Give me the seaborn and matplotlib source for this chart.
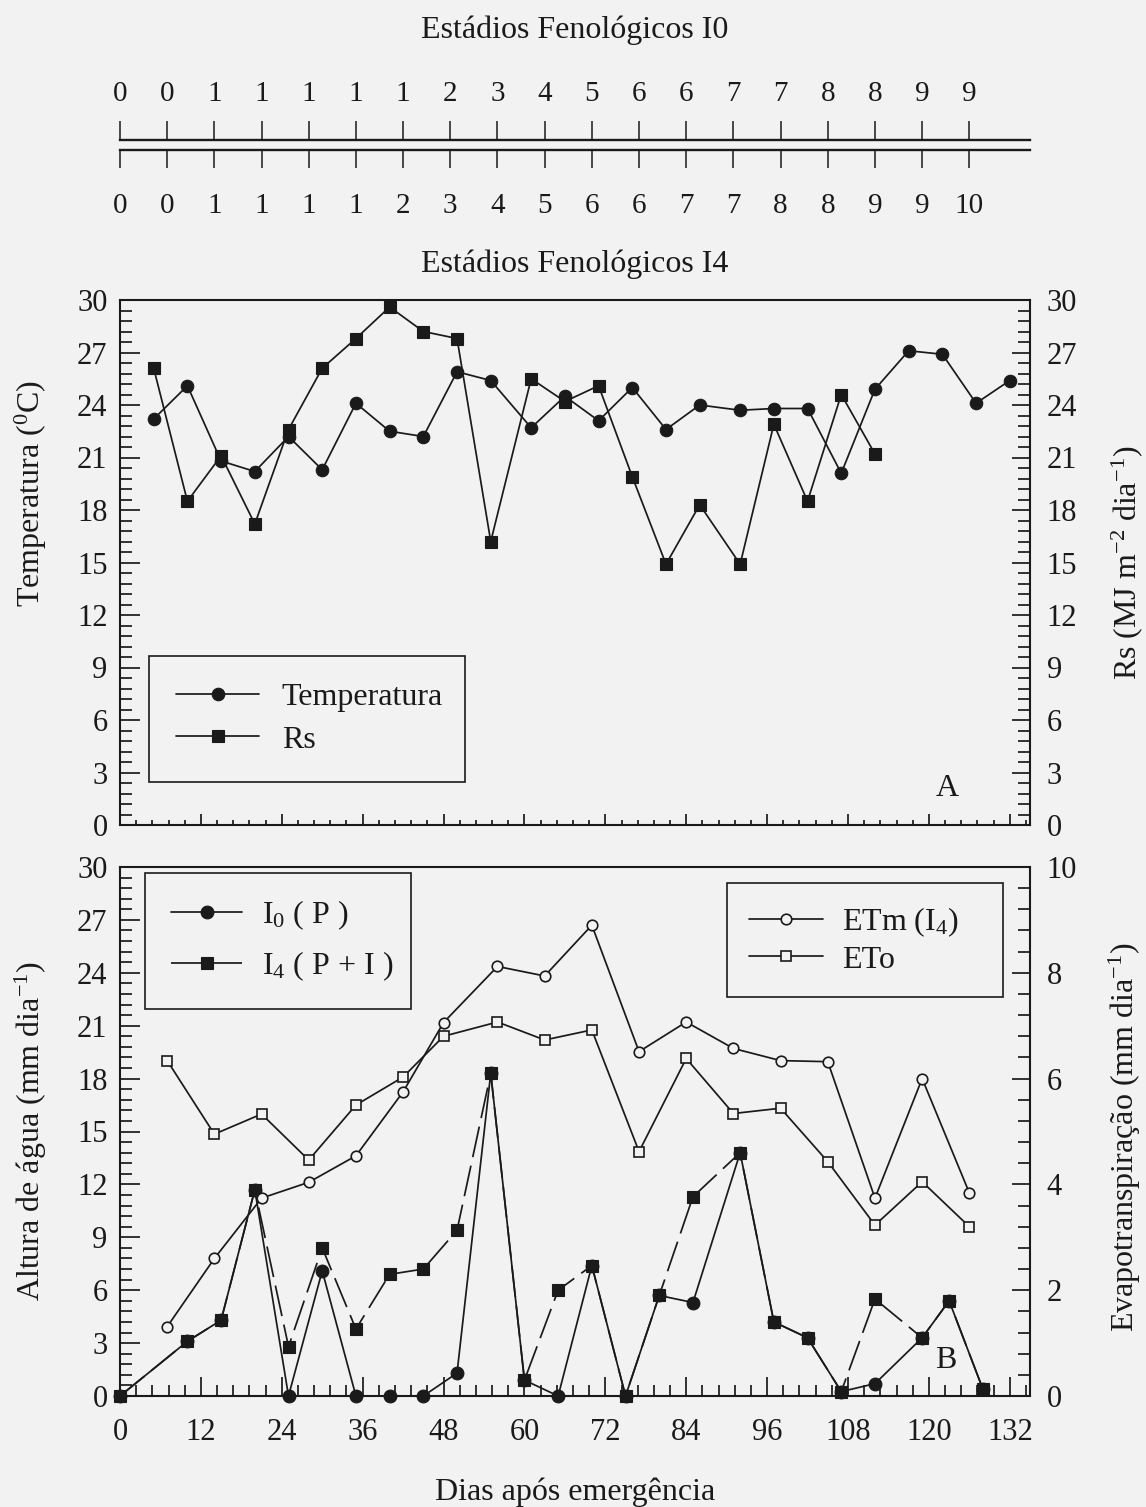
import matplotlib
matplotlib.use("Agg")
import matplotlib.pyplot as plt
from matplotlib.ticker import MultipleLocator, FixedLocator, FixedFormatter
import seaborn as sns

# ---------------- data ----------------
# phenological stages, read every 7 days
stage_days = [0, 7, 14, 21, 28, 35, 42, 49, 56, 63, 70, 77, 84, 91, 98, 105, 112, 119, 126]
stages_i0 = ["0", "0", "1", "1", "1", "1", "1", "2", "3", "4", "5", "6", "6", "7", "7", "8", "8", "9", "9"]
stages_i4 = ["0", "0", "1", "1", "1", "1", "2", "3", "4", "5", "6", "6", "7", "7", "8", "8", "9", "9", "10"]

# panel A: air temperature (C) and global solar radiation (MJ m-2 dia-1)
met_days = [5, 10, 15, 20, 25, 30, 35, 40, 45, 50, 55, 61, 66, 71, 76, 81, 86,
            92, 97, 102, 107, 112, 117, 122, 127, 132]
temperatura = [23.2, 25.1, 20.8, 20.2, 22.2, 20.3, 24.1, 22.5, 22.2, 25.9, 25.4, 22.7, 24.5,
               23.1, 25.0, 22.6, 24.0, 23.7, 23.8, 23.8, 20.1, 24.9, 27.1, 26.9, 24.1, 25.4]
rs_days = [5, 10, 15, 20, 25, 30, 35, 40, 45, 50, 55, 61, 66, 71, 76, 81, 86,
           92, 97, 102, 107, 112]
rs = [26.1, 18.5, 21.1, 17.2, 22.6, 26.1, 27.8, 29.6, 28.2, 27.8, 16.2, 25.5, 24.2,
      25.1, 19.9, 14.9, 18.3, 14.9, 22.9, 18.5, 24.6, 21.2]

# panel B: water height (mm dia-1) for I0 (rain) and I4 (rain + irrigation)
water_days = [0, 10, 15, 20, 25, 30, 35, 40, 45, 50, 55, 60, 65, 70, 75, 80, 85,
              92, 97, 102, 107, 112, 119, 123, 128]
i0_p = [0.0, 3.1, 4.3, 11.7, 0.0, 7.1, 0.0, 0.0, 0.0, 1.3, 18.3, 0.9, 0.0, 7.4, 0.0,
        5.7, 5.3, 13.8, 4.2, 3.3, 0.25, 0.7, 3.3, 5.4, 0.4]
i4_pi = [0.0, 3.1, 4.3, 11.7, 2.8, 8.4, 3.8, 6.9, 7.2, 9.4, 18.3, 0.9, 6.0, 7.4, 0.0,
         5.7, 11.3, 13.8, 4.2, 3.3, 0.25, 5.5, 3.3, 5.4, 0.4]

# panel B: evapotranspiration (mm dia-1)
et_days = [7, 14, 21, 28, 35, 42, 48, 56, 63, 70, 77, 84, 91, 98, 105, 112, 119, 126]
etm_i4 = [1.31, 2.60, 3.74, 4.04, 4.54, 5.75, 7.06, 8.12, 7.94, 8.90, 6.51, 7.07,
          6.57, 6.34, 6.32, 3.74, 6.00, 3.84]
eto = [6.34, 4.95, 5.33, 4.46, 5.50, 6.03, 6.80, 7.07, 6.73, 6.92, 4.62, 6.38,
       5.34, 5.44, 4.43, 3.23, 4.05, 3.20]

# ---------------- style ----------------
sns.set_theme(style="ticks")
BG = "#f2f2f2"
INK = "#1a1a1a"
plt.rcParams["font.family"] = ["Liberation Serif", "DejaVu Serif"]
plt.rcParams["mathtext.fontset"] = "custom"
plt.rcParams["mathtext.rm"] = "Liberation Serif"
plt.rcParams["mathtext.it"] = "Liberation Serif:italic"
plt.rcParams["axes.facecolor"] = BG
plt.rcParams["figure.facecolor"] = BG
plt.rcParams["axes.edgecolor"] = INK
plt.rcParams["xtick.color"] = INK
plt.rcParams["ytick.color"] = INK
plt.rcParams["text.color"] = INK
plt.rcParams["axes.labelcolor"] = INK

TICK_FS = 22
LAB_FS = 23
LW = 1.25

W, H = 1146, 1507
fig = plt.figure(figsize=(W / 100, H / 100), dpi=100)


def rect(left, top, right, bottom):
    return [left / W, 1 - bottom / H, (right - left) / W, (bottom - top) / H]


XMAX = 135

# ---------------- stage scale ----------------
ax_s = fig.add_axes(rect(120, 140, 1030, 150))
ax_s.set_xlim(0, XMAX)
ax_s.set_ylim(0, 1)
ax_s.set_yticks([])
for side in ("left", "right", "top"):
    ax_s.spines[side].set_visible(False)
ax_s.spines["bottom"].set_linewidth(1.7)
ax_s.xaxis.set_major_locator(FixedLocator(stage_days))
ax_s.xaxis.set_major_formatter(FixedFormatter(stages_i4))
ax_s.tick_params(axis="x", direction="out", length=13, width=1.1, pad=18,
                 labelsize=21, bottom=True, top=False)

ax_s2 = ax_s.twiny()
ax_s2.set_xlim(0, XMAX)
for side in ("left", "right", "bottom"):
    ax_s2.spines[side].set_visible(False)
ax_s2.spines["top"].set_linewidth(1.7)
ax_s2.xaxis.set_major_locator(FixedLocator(stage_days))
ax_s2.xaxis.set_major_formatter(FixedFormatter(stages_i0))
ax_s2.tick_params(axis="x", direction="out", length=13.5, width=1.1, pad=10,
                  labelsize=21, top=True, bottom=False)

fig.text(575 / W, 1 - 38 / H, "Estádios Fenológicos I0", ha="center", va="baseline",
         fontsize=LAB_FS)
fig.text(575 / W, 1 - 272 / H, "Estádios Fenológicos I4", ha="center", va="baseline",
         fontsize=LAB_FS)


def style_panel(ax, xlabels, xmaj_len, xmin_len):
    ax.set_xlim(0, XMAX)
    ax.set_ylim(0, 30)
    for sp in ax.spines.values():
        sp.set_linewidth(1.5)
    ax.xaxis.set_major_locator(MultipleLocator(12))
    ax.xaxis.set_minor_locator(MultipleLocator(2.4))
    ax.yaxis.set_major_locator(MultipleLocator(3))
    ax.yaxis.set_minor_locator(MultipleLocator(0.6))
    ax.tick_params(axis="x", which="major", direction="in", length=xmaj_len, width=LW,
                   top=False, labelbottom=xlabels, labelsize=TICK_FS, pad=16)
    ax.tick_params(axis="x", which="minor", direction="in", length=xmin_len, width=LW,
                   top=False)
    ax.tick_params(axis="y", which="major", direction="in", length=14.4, width=LW,
                   right=False, labelsize=TICK_FS, pad=9)
    ax.tick_params(axis="y", which="minor", direction="in", length=8.4, width=LW,
                   right=False)
    ax.set_xlabel("")


def style_right(ax2, top, major, minor):
    ax2.set_ylim(0, top)
    ax2.yaxis.set_major_locator(MultipleLocator(major))
    ax2.yaxis.set_minor_locator(MultipleLocator(minor))
    ax2.tick_params(axis="y", which="major", direction="in", length=13, width=LW,
                    left=False, labelsize=TICK_FS, pad=12)
    ax2.tick_params(axis="y", which="minor", direction="in", length=8.4, width=LW,
                    left=False)


def legend_box(ax, handles, labels, x0, ytop, width, **kw):
    leg = ax.legend(handles, labels, loc="upper left",
                    bbox_to_anchor=(x0, ytop - 0.05, width, 0.05), mode="expand",
                    borderaxespad=0, fancybox=False, framealpha=1, facecolor=BG,
                    edgecolor=INK, fontsize=LAB_FS, numpoints=1, **kw)
    leg.get_frame().set_linewidth(1.2)
    return leg


common = dict(color=INK, lw=LW, markeredgecolor=INK, clip_on=False, legend=False)

# ---------------- panel A ----------------
axA = fig.add_axes(rect(120, 300, 1030, 825))
sns.lineplot(x=met_days, y=temperatura, ax=axA, marker="o", markersize=9.0,
             markeredgewidth=0.8, label="Temperatura", **common)
style_panel(axA, False, 7.7, 3.6)
axA.set_ylabel("Temperatura ($^{\\mathregular{0}}$C)", fontsize=LAB_FS)
axA.yaxis.set_label_coords(-0.078, 0.632)

axA2 = axA.twinx()
sns.lineplot(x=rs_days, y=rs, ax=axA2, marker="s", markersize=8.2,
             markeredgewidth=0.8, label="Rs", **common)
style_right(axA2, 30, 3, 0.6)
axA2.set_ylabel("Rs (MJ m$^{\\mathregular{-2}}$ dia$^{\\mathregular{-1}}$)", fontsize=LAB_FS)
axA2.yaxis.set_label_coords(1.087, 0.5)

legend_box(axA2, axA.get_lines()[:1] + axA2.get_lines()[:1], ["Temperatura", "Rs"],
           0.032, 0.322, 0.347, handlelength=2.6, handletextpad=0.7,
           labelspacing=0.4, borderpad=0.85)
axA.text(0.909, 0.069, "A", transform=axA.transAxes, ha="center", va="center",
         fontsize=LAB_FS)

# ---------------- panel B ----------------
axB = fig.add_axes(rect(120, 867, 1030, 1396))
sns.lineplot(x=water_days, y=i0_p, ax=axB, marker="o", markersize=9.2,
             markeredgewidth=0.8, label="I$_{\\mathregular{0}}$ ( P )", **common)
sns.lineplot(x=water_days, y=i4_pi, ax=axB, marker="s", markersize=8.2,
             markeredgewidth=0.8, linestyle=(0, (18, 5)),
             label="I$_{\\mathregular{4}}$ ( P + I )", **common)
style_panel(axB, True, 13.7, 7.7)
axB.set_ylabel("Altura de água (mm dia$^{\\mathregular{-1}}$)", fontsize=LAB_FS)
axB.yaxis.set_label_coords(-0.078, 0.5)

axB2 = axB.twinx()
sns.lineplot(x=et_days, y=etm_i4, ax=axB2, marker="o", markersize=7.6,
             markerfacecolor=BG, markeredgewidth=1.2,
             label="ETm (I$_{\\mathregular{4}}$)", **common)
sns.lineplot(x=et_days, y=eto, ax=axB2, marker="s", markersize=7.0,
             markerfacecolor=BG, markeredgewidth=1.2, label="ETo", **common)
style_right(axB2, 10, 2, 0.4)
axB2.set_ylabel("Evapotranspiração (mm dia$^{\\mathregular{-1}}$)", fontsize=LAB_FS)
axB2.yaxis.set_label_coords(1.084, 0.49)

b_lines = axB.get_lines()
first = legend_box(axB2, b_lines[:2], [l.get_label() for l in b_lines[:2]],
                   0.0275, 0.989, 0.292, handlelength=2.25, handletextpad=0.6,
                   labelspacing=0.55, borderpad=0.8)
axB2.add_artist(first)
e_lines = axB2.get_lines()
legend_box(axB2, e_lines[:2], [l.get_label() for l in e_lines[:2]],
           0.667, 0.970, 0.303, handlelength=2.3, handletextpad=0.6,
           labelspacing=0.2, borderpad=0.7)
axB.text(0.907, 0.068, "B", transform=axB.transAxes, ha="center", va="center",
         fontsize=LAB_FS)

fig.text(575 / W, 1 - 1500 / H, "Dias após emergência", ha="center", va="baseline",
         fontsize=LAB_FS)

fig.savefig("out.png", dpi=100, facecolor=BG)
